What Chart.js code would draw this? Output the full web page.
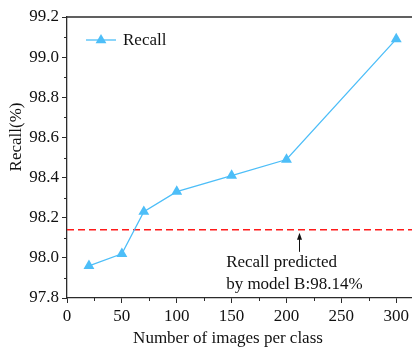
<!DOCTYPE html>
<html>
<head>
<meta charset="utf-8">
<script src="https://cdn.jsdelivr.net/npm/chart.js@4/dist/chart.umd.min.js"></script>
<style>
  html, body { margin: 0; padding: 0; background: #fff; overflow: hidden; }
  canvas { display: block; }
</style>
</head>
<body>
<canvas id="c" width="419" height="349"></canvas>
<script>
// Images per class used for training
const imagesPerClass = [20, 50, 70, 100, 150, 200, 300];
// Measured recall (%) for each training size
const recallValues = [97.96, 98.02, 98.23, 98.33, 98.41, 98.49, 99.09];
// Recall predicted by model B (%)
const predictedRecall = 98.14;
const predictedLabel = ['Recall predicted', 'by model B:98.14%'];
const seriesName = 'Recall';

const xMajorTicks = [0, 50, 100, 150, 200, 250, 300];
const xMinorTicks = [25, 75, 125, 175, 225, 275];
const yMajorTicks = [97.8, 98.0, 98.2, 98.4, 98.6, 98.8, 99.0, 99.2];
const yMinorTicks = [97.9, 98.1, 98.3, 98.5, 98.7, 98.9, 99.1];

const FONT = "'Liberation Serif', 'Times New Roman', serif";
const BLUE = '#4DBEF8';
const AXIS = '#2b2b2b';

const points = imagesPerClass.map((x, i) => ({ x, y: recallValues[i] }));

// Frame, minor ticks, legend, axis titles and the annotation
const decorations = {
  id: 'decorations',
  afterDraw(chart) {
    const { ctx, chartArea: a, scales: { x, y } } = chart;
    ctx.save();
    ctx.strokeStyle = AXIS;
    ctx.lineWidth = 1.3;
    // top spine
    ctx.beginPath();
    ctx.moveTo(a.left, a.top);
    ctx.lineTo(chart.width, a.top);
    ctx.stroke();
    // minor ticks
    ctx.lineWidth = 1;
    ctx.beginPath();
    xMinorTicks.forEach(v => {
      const px = Math.round(x.getPixelForValue(v)) + 0.5;
      ctx.moveTo(px, a.bottom);
      ctx.lineTo(px, a.bottom + 3);
    });
    yMinorTicks.forEach(v => {
      const py = Math.round(y.getPixelForValue(v)) + 0.5;
      ctx.moveTo(a.left, py);
      ctx.lineTo(a.left - 3, py);
    });
    ctx.stroke();

    // legend
    const ly = 40;
    ctx.strokeStyle = BLUE;
    ctx.lineWidth = 1.3;
    ctx.beginPath();
    ctx.moveTo(86, ly);
    ctx.lineTo(116, ly);
    ctx.stroke();
    ctx.fillStyle = BLUE;
    ctx.beginPath();
    ctx.moveTo(101, ly - 6);
    ctx.lineTo(101 + 5.4, ly + 3.3);
    ctx.lineTo(101 - 5.4, ly + 3.3);
    ctx.closePath();
    ctx.fill();
    ctx.fillStyle = '#111';
    ctx.font = '17px ' + FONT;
    ctx.textBaseline = 'middle';
    ctx.textAlign = 'left';
    ctx.fillText(seriesName, 123, ly + 1);

    // annotation arrow
    const ax = Math.round(x.getPixelForValue(211)) + 0.5;
    const tipY = y.getPixelForValue(predictedRecall) + 3;
    const tailY = y.getPixelForValue(98.03);
    ctx.strokeStyle = '#111';
    ctx.fillStyle = '#111';
    ctx.lineWidth = 1;
    ctx.beginPath();
    ctx.moveTo(ax, tipY + 4);
    ctx.lineTo(ax, tailY);
    ctx.stroke();
    ctx.beginPath();
    ctx.moveTo(ax, tipY);
    ctx.lineTo(ax + 2.5, tipY + 7);
    ctx.lineTo(ax - 2.5, tipY + 7);
    ctx.closePath();
    ctx.fill();

    // annotation text
    ctx.textBaseline = 'alphabetic';
    const tx = x.getPixelForValue(145);
    ctx.fillText(predictedLabel[0], tx, 267);
    ctx.fillText(predictedLabel[1], tx, 288.5);

    // axis titles
    ctx.textAlign = 'center';
    ctx.fillText('Number of images per class', 228, 343);
    ctx.translate(21, 137);
    ctx.rotate(-Math.PI / 2);
    ctx.fillText('Recall(%)', 0, 0);
    ctx.restore();
  }
};

new Chart(document.getElementById('c'), {
  type: 'line',
  data: {
    datasets: [
      {
        label: seriesName,
        data: points,
        borderColor: BLUE,
        backgroundColor: BLUE,
        borderWidth: 1.3,
        pointStyle: 'triangle',
        pointRadius: 6.3,
        pointBorderWidth: 0,
        pointBackgroundColor: BLUE,
        tension: 0,
        order: 1
      },
      {
        label: 'predicted',
        data: [{ x: 0, y: predictedRecall }, { x: 315, y: predictedRecall }],
        borderColor: '#FF1a1a',
        borderWidth: 1.6,
        borderDash: [7, 4],
        pointRadius: 0,
        order: 2
      }
    ]
  },
  options: {
    responsive: false,
    animation: false,
    layout: { padding: { top: 17, left: 0, right: 0, bottom: 0 } },
    plugins: { legend: { display: false }, tooltip: { enabled: false } },
    scales: {
      x: {
        type: 'linear',
        min: 0,
        max: 315,
        afterBuildTicks: s => { s.ticks = xMajorTicks.map(v => ({ value: v })); },
        afterFit: s => { s.height = 51; },
        ticks: {
          font: { family: FONT, size: 17 },
          color: '#111',
          padding: 3,
          maxRotation: 0,
          callback: v => String(v)
        },
        grid: { drawOnChartArea: false, drawTicks: true, tickLength: 5, tickColor: AXIS, tickWidth: 1 },
        border: { color: AXIS, width: 1.3 }
      },
      y: {
        type: 'linear',
        min: 97.8,
        max: 99.2,
        afterBuildTicks: s => { s.ticks = yMajorTicks.map(v => ({ value: v })); },
        afterFit: s => { s.width = 67; },
        ticks: {
          font: { family: FONT, size: 17 },
          color: '#111',
          padding: 3,
          callback: v => Number(v).toFixed(1)
        },
        grid: { drawOnChartArea: false, drawTicks: true, tickLength: 5, tickColor: AXIS, tickWidth: 1 },
        border: { color: AXIS, width: 1.3 }
      }
    }
  },
  plugins: [decorations]
});
</script>
</body>
</html>
